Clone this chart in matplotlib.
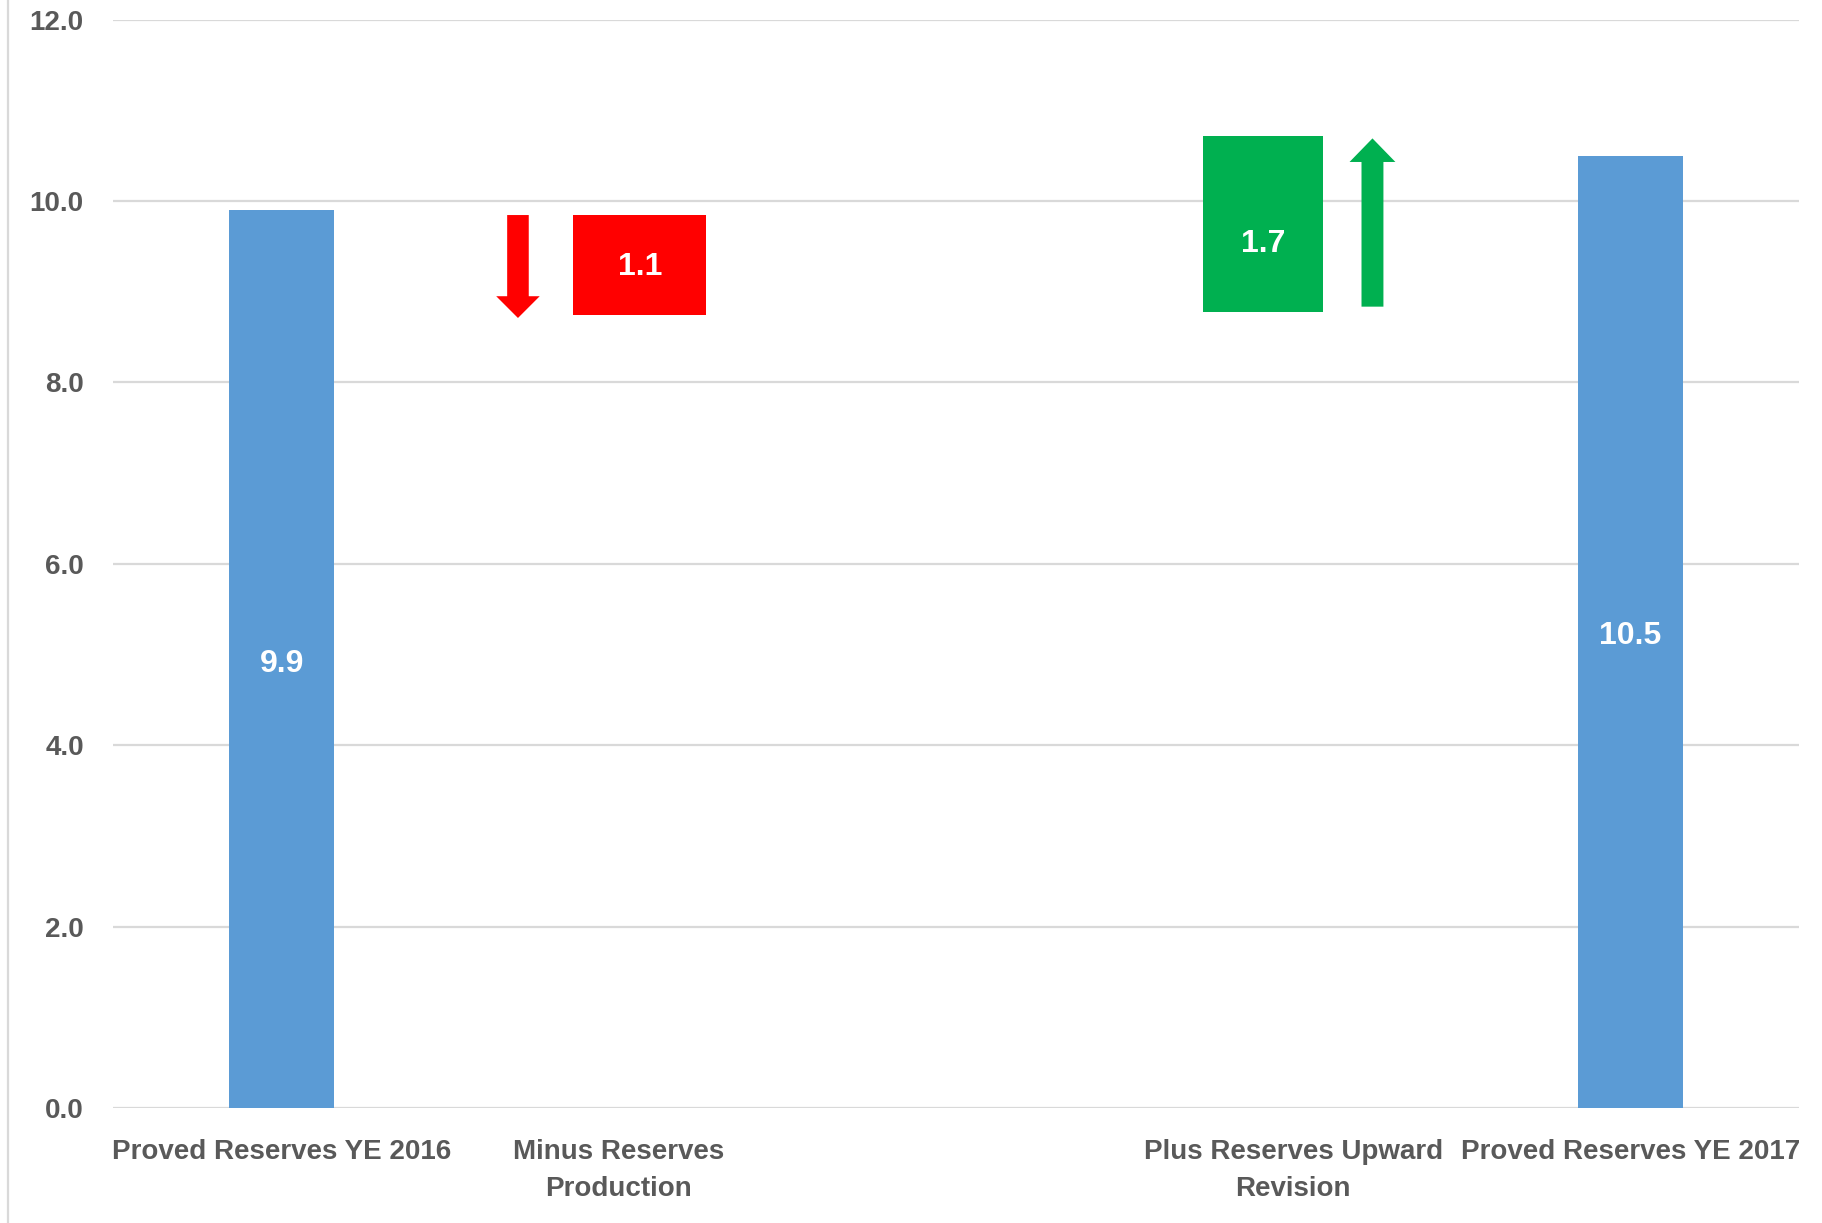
import matplotlib
matplotlib.use("Agg")
import matplotlib.pyplot as plt
from matplotlib.patches import FancyArrow

plt.rcParams['font.family'] = ['Liberation Sans Narrow', 'Liberation Sans', 'DejaVu Sans']

# data
categories = ["Proved Reserves YE 2016", "Minus Reserves\nProduction", "",
              "Plus Reserves Upward\nRevision", "Proved Reserves YE 2017"]
start_value = 9.9
production = 1.1
revision = 1.7
end_value = 10.5
y_ticks = [0.0, 2.0, 4.0, 6.0, 8.0, 10.0, 12.0]

BLUE = "#5B9BD5"
RED = "#FF0000"
GREEN = "#00B050"
GREY_TXT = "#595959"
GRID = "#D9D9D9"

fig = plt.figure(figsize=(18.22, 12.23), dpi=100)
ax = fig.add_axes([0.062, 0.094, 0.9254, 0.890])

xs = list(range(len(categories)))
bar_w = 0.31

# totals
ax.bar([xs[0], xs[4]], [start_value, end_value], width=bar_w, color=BLUE, zorder=3)
ax.text(xs[0], start_value / 2 - 0.05, f"{start_value:.1f}", color="white", fontsize=23,
        fontweight="bold", ha="center", va="center", zorder=4)
ax.text(xs[4], end_value / 2 - 0.05, f"{end_value:.1f}", color="white", fontsize=23,
        fontweight="bold", ha="center", va="center", zorder=4)

# production box (drawn a little right of its category) + down arrow
red_top = start_value - 0.055
red_bot = red_top - production
ax.bar(xs[1] + 0.062, production, bottom=red_bot, width=0.396, color=RED, zorder=3)
ax.text(xs[1] + 0.062, red_bot + production / 2 - 0.02, f"{production:.1f}", color="white",
        fontsize=23, fontweight="bold", ha="center", va="center", zorder=4)
ax.add_patch(FancyArrow(xs[1] - 0.299, red_top, 0, -(production + 0.035), width=0.064,
                        head_width=0.129, head_length=0.24, length_includes_head=True,
                        color=RED, lw=0, zorder=3))

# revision box + up arrow
green_bot = red_bot + 0.03
green_top = end_value + 0.22
ax.bar(xs[3] - 0.09, green_top - green_bot, bottom=green_bot, width=0.358, color=GREEN, zorder=3)
ax.text(xs[3] - 0.09, green_bot + revision / 2 - 0.1, f"{revision:.1f}", color="white",
        fontsize=23, fontweight="bold", ha="center", va="center", zorder=4)
ax.add_patch(FancyArrow(xs[3] + 0.235, green_bot + 0.06, 0, green_top - green_bot - 0.09,
                        width=0.065, head_width=0.136, head_length=0.26,
                        length_includes_head=True, color=GREEN, lw=0, zorder=3))

ax.set_xlim(-0.5, 4.5)
ax.set_ylim(0, 12)
ax.set_yticks(y_ticks)
ax.set_yticklabels([f"{v:.1f}" for v in y_ticks])
ax.set_xticks(xs)
ax.set_xticklabels(categories, linespacing=1.55)
ax.grid(axis="y", color=GRID, lw=1.6, zorder=0)
ax.set_axisbelow(True)
for s in ax.spines.values():
    s.set_visible(False)
ax.tick_params(length=0, colors=GREY_TXT, labelsize=20)
ax.tick_params(axis="y", pad=21)
ax.tick_params(axis="x", pad=22)
for lbl in ax.get_xticklabels() + ax.get_yticklabels():
    lbl.set_fontweight("bold")
    lbl.set_color(GREY_TXT)

# chart frame left edge
fig.add_artist(plt.Line2D([0.0045, 0.0045], [0.0, 1.0], transform=fig.transFigure,
                          color=GRID, lw=1.6))

fig.savefig("out.png", dpi=100)
